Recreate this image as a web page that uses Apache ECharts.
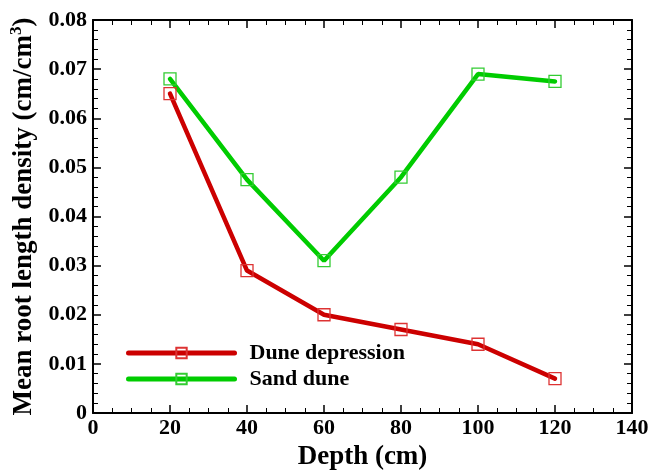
<!DOCTYPE html>
<html><head><meta charset="utf-8">
<script src="https://cdn.jsdelivr.net/npm/echarts@6/dist/echarts.min.js"></script>
<style>html,body{margin:0;padding:0;background:#fff}#c{width:652px;height:472px}</style>
</head><body><div id="c"></div>
<script>
const depths = [20, 40, 60, 80, 100, 120];
const duneDepression = [0.065, 0.029, 0.020, 0.017, 0.014, 0.007];
const sandDune = [0.068, 0.0475, 0.031, 0.048, 0.069, 0.0675];
const seriesNames = ['Dune depression', 'Sand dune'];
const xTitle = 'Depth (cm)';

const font = 'Liberation Serif';
const chart = echarts.init(document.getElementById('c'));
function pairs(ys){ return depths.map((d,i)=>[d, ys[i]]); }
const axisLine = {show:true, onZero:false, lineStyle:{color:'#000', width:2}};
const tick = {show:true, inside:true, length:8, lineStyle:{color:'#000', width:1.5}};
const minor = {show:true, splitNumber:4, length:5, lineStyle:{color:'#000', width:1}};
chart.setOption({
  animation:false,
  backgroundColor:'#fff',
  grid:{left:93, right:20, top:20, bottom:59, outerBoundsMode:'none', containLabel:false},
  xAxis:[{
    type:'value', min:0, max:140, interval:20, position:'bottom',
    axisLine, axisTick:tick, minorTick:{...minor, splitNumber:4},
    splitLine:{show:false},
    axisLabel:{fontFamily:font, fontWeight:'bold', fontSize:22, color:'#000', margin:4},
    name:xTitle, nameLocation:'middle', nameGap:31,
    nameTextStyle:{fontFamily:font, fontWeight:'bold', fontSize:27, color:'#000'}
  },{
    type:'value', min:0, max:140, interval:20, position:'top',
    axisLine, axisTick:tick, minorTick:{...minor, splitNumber:4},
    splitLine:{show:false}, axisLabel:{show:false}
  }],
  yAxis:[{
    type:'value', min:0, max:0.08, interval:0.01, position:'left',
    axisLine, axisTick:tick, minorTick:{...minor, splitNumber:5},
    splitLine:{show:false},
    axisLabel:{fontFamily:font, fontWeight:'bold', fontSize:22, color:'#000', margin:6,
      formatter:v=> v===0 ? '0' : v.toFixed(2)},
    name:'Mean root length density (cm/cm{sup|3})', nameLocation:'middle', nameGap:47,
    nameTextStyle:{fontFamily:font, fontWeight:'bold', fontSize:27, color:'#000',
      rich:{sup:{fontFamily:font, fontWeight:'bold', fontSize:17, color:'#000', verticalAlign:'top', padding:[0,0,14,0]}}}
  },{
    type:'value', min:0, max:0.08, interval:0.01, position:'right',
    axisLine, axisTick:tick, minorTick:{...minor, splitNumber:5},
    splitLine:{show:false}, axisLabel:{show:false}
  }],
  legend:{
    orient:'vertical', left:121, top:337, itemWidth:106, itemHeight:13, itemGap:4,
    lineStyle:{width:5, cap:'round'},
    textStyle:{fontFamily:font, fontWeight:'bold', fontSize:22, color:'#000', padding:[0,0,0,10]},
    data:seriesNames
  },
  series:[
    {name:seriesNames[0], type:'line', data:pairs(duneDepression), xAxisIndex:0, yAxisIndex:0,
     lineStyle:{color:'#cc0000', width:4.5, cap:'round'},
     symbol:'rect', symbolSize:12,
     itemStyle:{color:'rgba(0,0,0,0)', borderColor:'#dd3333', borderWidth:1.3}},
    {name:seriesNames[1], type:'line', data:pairs(sandDune), xAxisIndex:0, yAxisIndex:0,
     lineStyle:{color:'#00cc00', width:4.5, cap:'round'},
     symbol:'rect', symbolSize:12,
     itemStyle:{color:'rgba(0,0,0,0)', borderColor:'#33cc33', borderWidth:1.3}}
  ]
});
</script></body></html>
